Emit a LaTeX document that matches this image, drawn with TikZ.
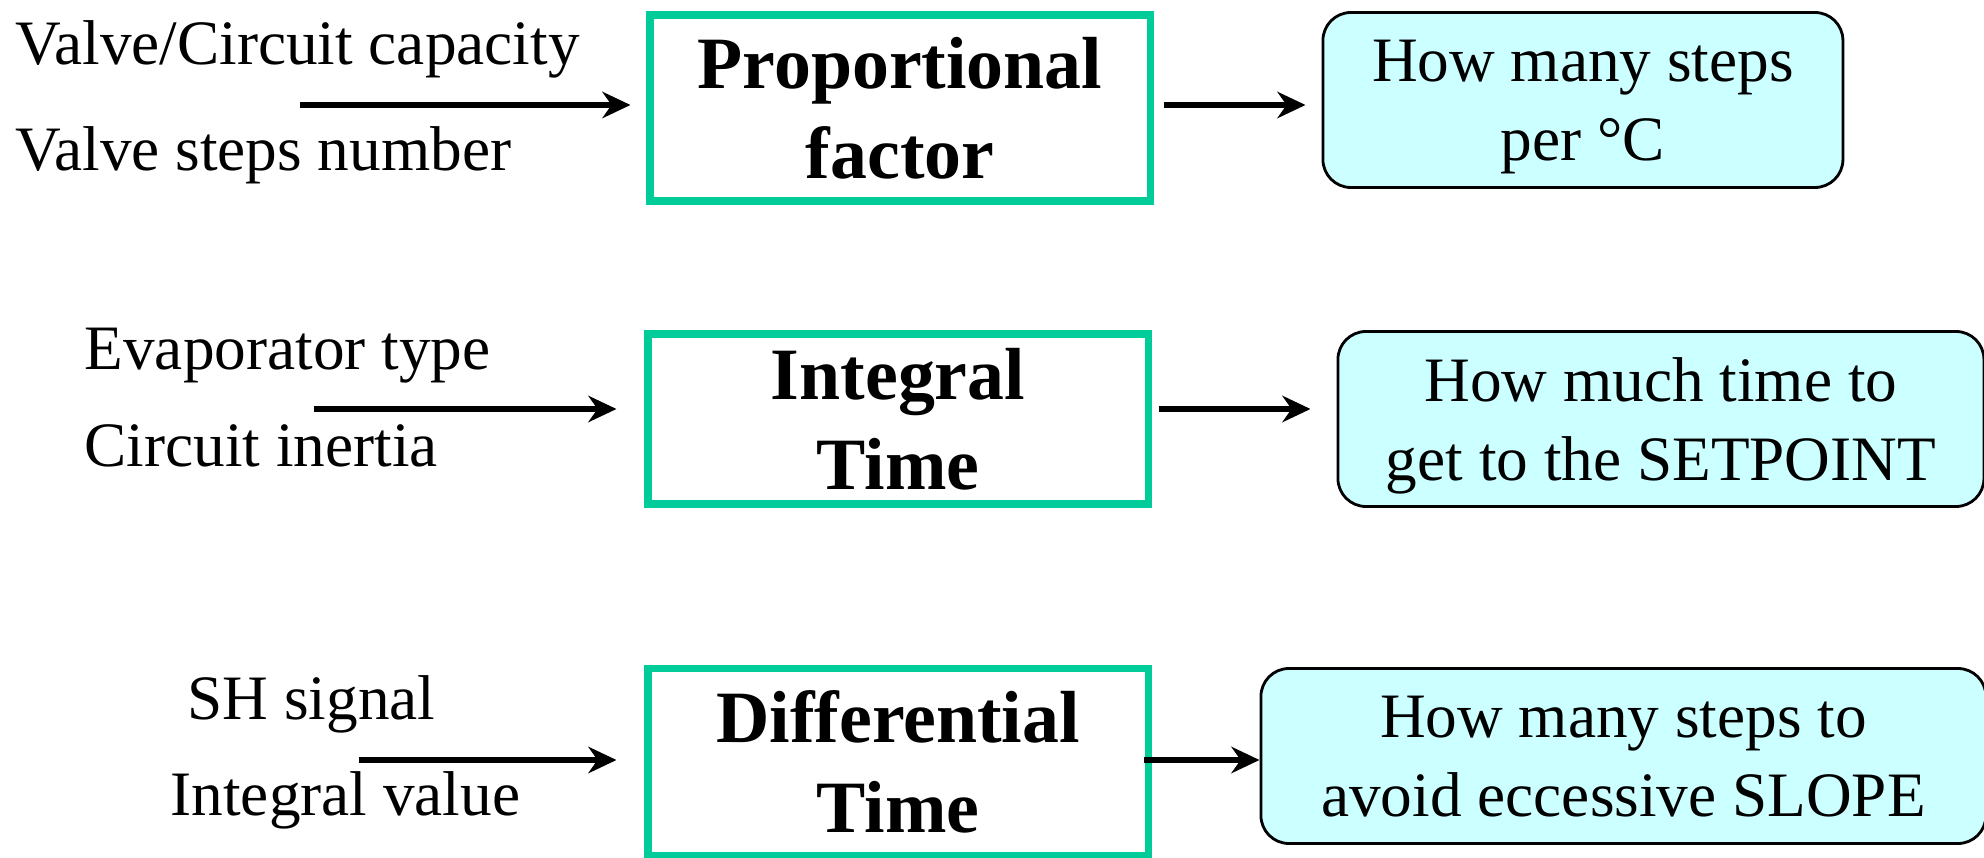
\documentclass[tikz,border=0pt]{standalone}
\usepackage{fontspec}
\setmainfont{Liberation Serif}
\usetikzlibrary{arrows.meta, positioning}
\definecolor{gaingreen}{RGB}{0,204,153}
\definecolor{outcyan}{RGB}{204,255,255}

\begin{document}
\begin{tikzpicture}[>={Stealth[length=8pt, width=7.5pt]},
    gainbox/.style={rectangle, draw=gaingreen, line width=2pt, fill=white, align=center,
                minimum width=5.0cm, font=\fontsize{21}{25.5}\selectfont\bfseries},
    outbox/.style={rectangle, draw, line width=0.8pt, fill=outcyan, align=center, text depth=0pt,
                minimum height=1.75cm, rounded corners=0.28cm, font=\fontsize{18}{22.5}\selectfont},
    inlabel/.style={anchor=west, inner sep=0pt, font=\fontsize{18}{22}\selectfont},
    link/.style={->, line width=1.5pt}]
    \useasboundingbox (0,0) rectangle (19.84,-8.58);

    % proportional factor
    \node[inlabel] (vcap) at (0.15,-0.49) {Valve/Circuit capacity};
    \node[inlabel] (vsteps) at (0.15,-1.55) {Valve steps number};
    \coordinate (p-in) at (3.00,-1.05);
    \node[gainbox, minimum height=1.86cm] (prop) at (9.00,-1.08) {Proportional\\factor};
    \node[outbox, right=1.68cm of prop, yshift=0.08cm, minimum width=5.2cm] (steps) {How many steps\\per °C};

    % integral time
    \node[inlabel] (evap) at (0.84,-3.56) {Evaporator type};
    \node[inlabel] (inertia) at (0.84,-4.46) {Circuit inertia};
    \coordinate (i-in) at (3.14,-4.09);
    \node[gainbox, minimum height=1.70cm] (integ) at (8.98,-4.19) {Integral\\Time};
    \node[outbox, right=1.85cm of integ, minimum width=6.46cm] (settle) {How much time to\\get to the SETPOINT};

    % differential time
    \node[inlabel] (shsig) at (1.87,-7.04) {SH signal};
    \node[inlabel] (intval) at (1.70,-8.00) {Integral value};
    \coordinate (d-in) at (3.59,-7.60);
    \node[gainbox, minimum height=1.87cm] (diff) at (8.98,-7.62) {Differential\\Time};
    \node[outbox, right=1.08cm of diff, yshift=0.06cm, minimum width=7.25cm] (slope) {How many steps to\\avoid eccessive SLOPE};

    \draw[link, shorten >=0.16cm] (p-in) -- (p-in -| prop.west);
    \draw[link, shorten <=0.10cm, shorten >=0.16cm] (p-in -| prop.east) -- (p-in -| steps.west);
    \draw[link, shorten >=0.28cm] (i-in) -- (i-in -| integ.west);
    \draw[link, shorten <=0.07cm, shorten >=0.26cm] (i-in -| integ.east) -- (i-in -| settle.west);
    \draw[link, shorten >=0.28cm] (d-in) -- (d-in -| diff.west);
    \draw[link, shorten <=-0.08cm] (d-in -| diff.east) -- (d-in -| slope.west);
\end{tikzpicture}
\end{document}
